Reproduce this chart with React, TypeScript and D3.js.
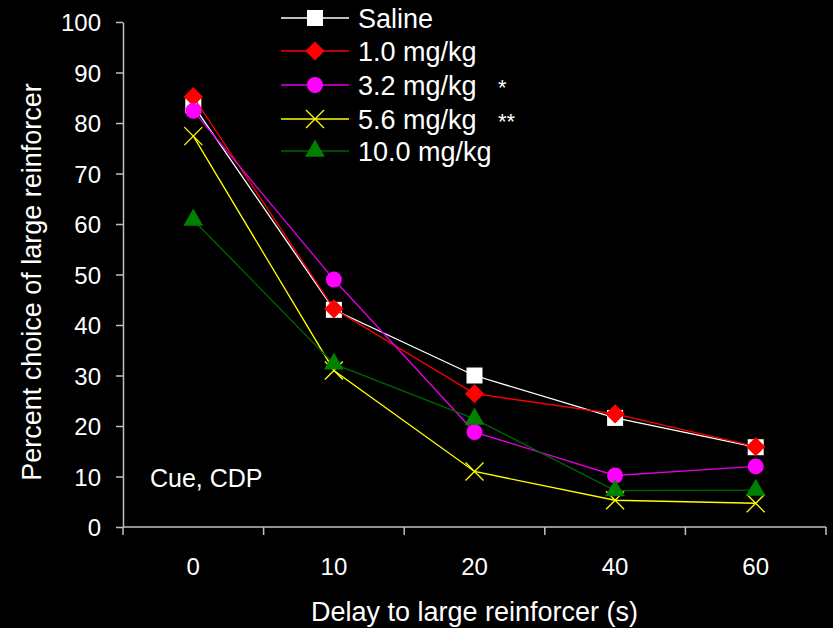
import { useEffect, useRef } from 'react';
import * as d3 from 'd3';

const delays = ['0', '10', '20', '40', '60'];
const yTicks = [0, 10, 20, 30, 40, 50, 60, 70, 80, 90, 100];

const doseNames = ['Saline', '1.0 mg/kg', '3.2 mg/kg', '5.6 mg/kg', '10.0 mg/kg'];
const doseStars = ['', '', '*', '**', ''];

const saline = [83.5, 43, 30, 21.6, 15.8];
const dose10 = [85.2, 43.2, 26.4, 22.4, 15.9];
const dose32 = [82.4, 49, 18.8, 10.2, 12];
const dose56 = [77.4, 31, 11, 5.3, 4.7];
const dose100 = [60.8, 32.3, 21.4, 7.2, 7.3];

const lineColors = ['#ffffff', '#ff0000', '#e000e0', '#ffff00', '#006400'];
const markColors = ['#ffffff', '#ff0000', '#ff00ff', '#ffff00', '#008000'];
const shapes = ['square', 'diamond', 'circle', 'x', 'triangle'];

export default function App(): JSX.Element {
  const svgRef = useRef<SVGSVGElement>(null);

  useEffect(() => {
    if (svgRef.current) {
      svgRef.current.innerHTML = '';
    }
    const width = 833;
    const height = 628;
    const left = 123;
    const right = 826;
    const top = 22;
    const bottom = 527;
    const font = '"Liberation Sans", Arial, sans-serif';

    const series = [saline, dose10, dose32, dose56, dose100];

    const x = d3.scaleBand<string>().domain(delays).range([left, right]).paddingInner(0).paddingOuter(0);
    const y = d3.scaleLinear([0, 100], [bottom, top]);
    const cx = (d: string) => (x(d) as number) + x.bandwidth() / 2;

    const svg = d3.select(svgRef.current).attr('width', width).attr('height', height).attr('viewBox', [0, 0, width, height]);

    svg.append('rect').attr('width', width).attr('height', height).attr('fill', '#000000');

    // y axis
    const yAxis = svg
      .append('g')
      .attr('transform', `translate(${left},0)`)
      .call(d3.axisLeft(y).tickValues(yTicks).tickSize(7).tickPadding(15).tickSizeOuter(0));
    yAxis.select('.domain').attr('stroke', '#c0c0c0').attr('stroke-width', 1.5);
    yAxis.selectAll('.tick line').attr('stroke', '#c0c0c0').attr('stroke-width', 1.5);
    yAxis
      .selectAll('.tick text')
      .attr('fill', '#ffffff')
      .attr('font-family', font)
      .attr('font-size', 24)
      .attr('dy', '0.36em');

    // x axis: ticks on band edges, labels centred in bands
    const xg = svg.append('g');
    xg.append('line')
      .attr('x1', left)
      .attr('x2', right)
      .attr('y1', bottom)
      .attr('y2', bottom)
      .attr('stroke', '#c0c0c0')
      .attr('stroke-width', 1.5);
    const edges = [...delays.map((d) => x(d) as number), right];
    xg.selectAll('line.edge')
      .data(edges)
      .enter()
      .append('line')
      .attr('class', 'edge')
      .attr('x1', (d) => d)
      .attr('x2', (d) => d)
      .attr('y1', bottom)
      .attr('y2', bottom + 8)
      .attr('stroke', '#c0c0c0')
      .attr('stroke-width', 1.5);
    xg.selectAll('text')
      .data(delays)
      .enter()
      .append('text')
      .attr('x', (d) => cx(d))
      .attr('y', 575)
      .attr('text-anchor', 'middle')
      .attr('fill', '#ffffff')
      .attr('font-family', font)
      .attr('font-size', 24)
      .text((d) => d);

    // axis titles
    svg
      .append('text')
      .attr('x', (left + right) / 2)
      .attr('y', 621)
      .attr('text-anchor', 'middle')
      .attr('fill', '#ffffff')
      .attr('font-family', font)
      .attr('font-size', 27)
      .text('Delay to large reinforcer (s)');
    svg
      .append('text')
      .attr('transform', 'translate(41,282) rotate(-90)')
      .attr('text-anchor', 'middle')
      .attr('fill', '#ffffff')
      .attr('font-family', font)
      .attr('font-size', 27)
      .text('Percent choice of large reinforcer');

    svg
      .append('text')
      .attr('x', 150)
      .attr('y', 487)
      .attr('fill', '#ffffff')
      .attr('font-family', font)
      .attr('font-size', 25)
      .text('Cue, CDP');

    const drawMark = (g: d3.Selection<SVGGElement, unknown, null, undefined>, shape: string, px: number, py: number, color: string) => {
      if (shape === 'x') {
        const h = 9;
        g.append('path')
          .attr('d', `M${px - h},${py - h}L${px + h},${py + h}M${px - h},${py + h}L${px + h},${py - h}`)
          .attr('stroke', color)
          .attr('stroke-width', 1.3)
          .attr('fill', 'none');
        return;
      }
      let sym = d3.symbol().type(d3.symbolSquare).size(256);
      let rot = 0;
      if (shape === 'diamond') {
        sym = d3.symbol().type(d3.symbolSquare).size(185);
        rot = 45;
      } else if (shape === 'circle') {
        sym = d3.symbol().type(d3.symbolCircle).size(200);
      } else if (shape === 'triangle') {
        sym = d3.symbol().type(d3.symbolTriangle).size(170);
      }
      g.append('path')
        .attr('d', sym() as string)
        .attr('transform', `translate(${px},${py}) rotate(${rot})`)
        .attr('fill', color);
    };

    const line = d3
      .line<number>()
      .x((_, i) => cx(delays[i]))
      .y((d) => y(d));

    series.forEach((vals, si) => {
      const g = svg.append('g');
      g.append('path')
        .attr('d', line(vals))
        .attr('fill', 'none')
        .attr('stroke', lineColors[si])
        .attr('stroke-width', 1.3);
      vals.forEach((v, i) => drawMark(g, shapes[si], cx(delays[i]), y(v), markColors[si]));
    });

    // legend
    const legendY = [18, 51, 85, 119, 151];
    doseNames.forEach((name, si) => {
      const g = svg.append('g');
      const ly = legendY[si];
      g.append('line')
        .attr('x1', 281)
        .attr('x2', 349)
        .attr('y1', ly)
        .attr('y2', ly)
        .attr('stroke', lineColors[si])
        .attr('stroke-width', 1.3);
      drawMark(g, shapes[si], 315, ly, markColors[si]);
      g.append('text')
        .attr('x', 358)
        .attr('y', ly + 10)
        .attr('fill', '#ffffff')
        .attr('font-family', font)
        .attr('font-size', 27)
        .text(name);
      if (doseStars[si]) {
        g.append('text')
          .attr('x', 498)
          .attr('y', ly + 10)
          .attr('fill', '#ffffff')
          .attr('font-family', font)
          .attr('font-size', 22)
          .text(doseStars[si]);
      }
    });
  }, []);

  return (
    <div style={{ position: 'absolute', left: 0, top: 0 }}>
      <svg ref={svgRef} style={{ display: 'block' }} />
    </div>
  );
}
